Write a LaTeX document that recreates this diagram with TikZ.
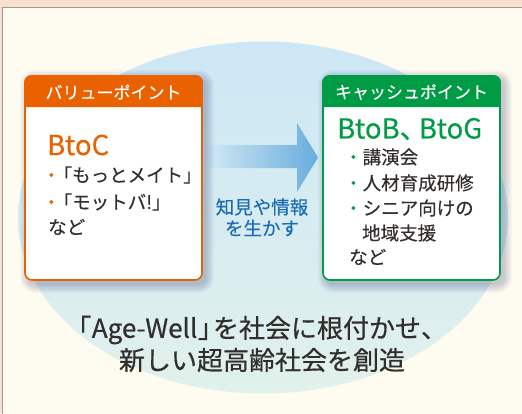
\documentclass[tikz,border=0pt]{standalone}
\usepackage{fontspec}
\setmainfont{Noto Sans CJK JP}
\newfontfamily\medfont[FakeBold=0.5]{Noto Sans CJK JP}
\newfontfamily\semifont[FakeBold=0.25]{Noto Sans CJK JP}
\definecolor{peach}{HTML}{F8DFCE}
\definecolor{cream}{HTML}{FEFCF0}
\definecolor{panelline}{HTML}{A09A96}
\definecolor{circtop}{HTML}{CCE7F5}
\definecolor{circbot}{HTML}{E1F1EC}
\definecolor{vorange}{HTML}{EA6100}
\definecolor{cgreen}{HTML}{009B45}
\definecolor{txt}{HTML}{322E2C}
\definecolor{bluetxt}{HTML}{1C6CB4}
\definecolor{arrowR}{HTML}{68ACDC}
\definecolor{arrowL}{HTML}{D3E9F5}
\tikzset{
  boxbody/.style={draw=#1, line width=1.6pt, fill=white, rounded corners=7pt,
    minimum width=177pt, minimum height=204pt, inner sep=0pt},
  hdr/.style={text=white, font=\semifont\fontsize{17}{20}\selectfont, inner sep=0pt},
  big/.style={font=\semifont\fontsize{27.5}{30}\selectfont, anchor=west, inner sep=0pt},
  item/.style={text=txt, font=\semifont\fontsize{18.5}{22}\selectfont, anchor=west, inner sep=0pt},
  bluelbl/.style={text=bluetxt, font=\semifont\fontsize{18.5}{22}\selectfont, inner sep=0pt},
  slogan/.style={text=txt, font=\medfont\fontsize{26}{30}\selectfont, inner sep=0pt},
}
\newcommand{\softshadow}[4]{%
  \foreach \i in {0,...,8}{%
    \fill[black!70!blue, opacity=0.022, rounded corners={7pt+\i pt}]
      ({#1+3-\i},{#2+2-\i}) rectangle ({#3+4+\i},{#4+5+\i});
  }%
}
\newcommand{\tight}{\hspace{-0.38em}}
\begin{document}
\begin{tikzpicture}[x=1pt,y=-1pt]
\useasboundingbox (0,0) rectangle (522,413);
% background
\fill[peach] (0,0) rectangle (522,413);
\fill[cream] (2.5,7.5) rectangle (530,420);
\draw[panelline, line width=0.8pt] (2.5,420) -- (2.5,7.5) -- (530,7.5);
% circle
\shade[top color=circtop, bottom color=circbot] (263,217.5) ellipse [x radius=245, y radius=176];
% arrow
\shade[left color=arrowL, right color=arrowR]
  (205,145) -- (297,145) -- (297,123) -- (318,157.5) -- (297,192) -- (297,168) -- (205,168) -- cycle;
% shadows
\softshadow{25}{76}{202}{280}
\softshadow{323}{76}{500}{280}
% left box
\node[boxbody=vorange] (lbox) at (113.5,178) {};
\fill[vorange] ([yshift=-32pt]lbox.north west) [rounded corners=7pt] -- (lbox.north west)
  -- (lbox.north east) [sharp corners] -- ([yshift=-32pt]lbox.north east) -- cycle;
\node[hdr] (lhead) at (113.5,92) {バリューポイント};
\node[big, text=vorange] (btoc) at (47,145) {BtoC};
\node[item] (l1) at (42,175) {{\color{vorange}・}\tight「もっとメイト」};
\node[item] (l2) at (42,202) {{\color{vorange}・}\tight「モットバ!」};
\node[item] (l3) at (48,227) {など};
% right box
\node[boxbody=cgreen] (rbox) at (411.5,178) {};
\fill[cgreen] ([yshift=-32pt]rbox.north west) [rounded corners=7pt] -- (rbox.north west)
  -- (rbox.north east) [sharp corners] -- ([yshift=-32pt]rbox.north east) -- cycle;
\node[hdr] (rhead) at (411.5,92) {キャッシュポイント};
\node[big, text=cgreen] (btob) at (337,129) {BtoB、\hspace{-0.3em}BtoG};
\node[item] (r1) at (344,157) {{\color{cgreen}・}講演会};
\node[item] (r2) at (344,183) {{\color{cgreen}・}人材育成研修};
\node[item] (r3) at (344,208) {{\color{cgreen}・}シニア向けの};
\node[item] (r4) at (362,233) {地域支援};
\node[item] (r5) at (349,257) {など};
% middle label
\node[bluelbl] (m1) at (262,207) {知見や情報};
\node[bluelbl] (m2) at (262,228) {を生かす};
% slogan
\node[slogan] (s1) at (262,330) {\hspace{-0.45em}「\hspace{0.02em}Age-Well\hspace{0.02em}」\hspace{-0.42em}を社会に根付かせ、\hspace{-0.4em}};
\node[slogan] (s2) at (262,360) {新しい超高齢社会を創造};
\end{tikzpicture}
\end{document}
